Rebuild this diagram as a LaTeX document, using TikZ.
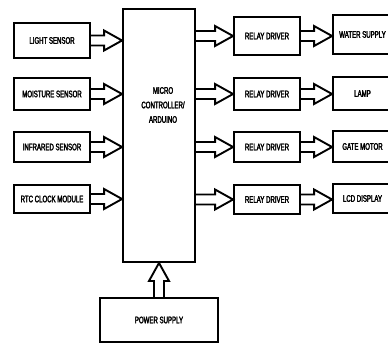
\documentclass[tikz,border=0pt]{standalone}
\usepackage{fontspec}
\setmainfont{Liberation Sans}[FakeStretch=0.64, FakeBold=2.5]
\usetikzlibrary{calc}

\begin{document}
\begin{tikzpicture}[x=1pt, y=-1pt, line width=1.9pt,
    block/.style={draw, rectangle, inner sep=0pt, align=center, font=\fontsize{9.5}{11}\selectfont},
    hollowr/.style={to path={let \p1=(\tikztostart), \p2=(\tikztotarget) in
      (\x1,\y1+5pt) -- (\x2-18pt,\y1+5pt) -- (\x2-18pt,\y1+10pt) -- (\x2,\y1)
      -- (\x2-18pt,\y1-10pt) -- (\x2-18pt,\y1-5pt) -- (\x1,\y1-5pt)}},
    hollowu/.style={to path={let \p1=(\tikztostart), \p2=(\tikztotarget) in
      (\x1-5pt,\y1) -- (\x1-5pt,\y2-18pt) -- (\x1-10pt,\y2-18pt) -- (\x1,\y2)
      -- (\x1+10pt,\y2-18pt) -- (\x1+5pt,\y2-18pt) -- (\x1+5pt,\y1)}}]
    \useasboundingbox (0,0) rectangle (388,343);

    % Nodes
    \node[block, minimum width=76pt, minimum height=35pt] (light) at (52,40.5) {LIGHT SENSOR};
    \node[block, minimum width=76pt, minimum height=32pt] (moist) at (52,94) {MOISTURE SENSOR};
    \node[block, minimum width=76pt, minimum height=30pt] (infra) at (52,147) {INFRARED SENSOR};
    \node[block, minimum width=76pt, minimum height=28pt] (rtc) at (52,199) {RTC CLOCK MODULE};

    \node[block, minimum width=72pt, minimum height=253pt] (micro) at (159,135.5) {};
    \node[align=center, font=\fontsize{9.5}{14.5}\selectfont] (microlbl) at (163,105) {MICRO\\CONTROLLER/\\ARDUINO};

    \node[block, minimum width=66pt, minimum height=38pt] (relay1) at (267,36) {RELAY DRIVER};
    \node[block, minimum width=66pt, minimum height=32pt] (relay2) at (267,94) {RELAY DRIVER};
    \node[block, minimum width=66pt, minimum height=30pt] (relay3) at (267,147) {RELAY DRIVER};
    \node[block, minimum width=66pt, minimum height=29pt] (relay4) at (267,199.5) {RELAY DRIVER};

    \node[block, minimum width=59pt, minimum height=39pt] (water) at (362.5,34.5) {WATER SUPPLY};
    \node[block, minimum width=59pt, minimum height=33pt] (lamp) at (362.5,93.5) {LAMP};
    \node[block, minimum width=59pt, minimum height=31pt] (gate) at (362.5,146.5) {GATE MOTOR};
    \node[block, minimum width=59pt, minimum height=29pt] (lcd) at (362.5,198.5) {LCD DISPLAY};

    \node[block, minimum width=118pt, minimum height=44pt] (power) at (159,320) {POWER SUPPLY};

    % Edges
    \draw (light.east) to[hollowr] (micro.west |- light.east);
    \draw (moist.east) to[hollowr] (micro.west |- moist.east);
    \draw (infra.east) to[hollowr] (micro.west |- infra.east);
    \draw (rtc.east) to[hollowr] (micro.west |- rtc.east);

    \draw (micro.east |- relay1.west) to[hollowr] (relay1.west);
    \draw (micro.east |- relay2.west) to[hollowr] (relay2.west);
    \draw (micro.east |- relay3.west) to[hollowr] (relay3.west);
    \draw (micro.east |- relay4.west) to[hollowr] (relay4.west);

    \draw (relay1.east) to[hollowr] (water.west |- relay1.east);
    \draw (relay2.east) to[hollowr] (lamp.west |- relay2.east);
    \draw (relay3.east) to[hollowr] (gate.west |- relay3.east);
    \draw (relay4.east) to[hollowr] (lcd.west |- relay4.east);

    \draw (power.north) to[hollowu] (micro.south);
  \end{tikzpicture}
\end{document}
